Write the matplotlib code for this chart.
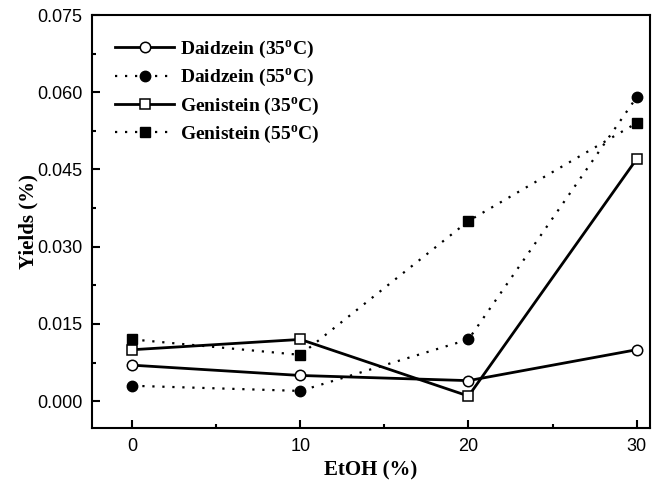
import numpy as np
import matplotlib.pyplot as plt
from matplotlib.ticker import MultipleLocator

etoh = [0, 10, 20, 30]
daid_35 = [0.007, 0.005, 0.004, 0.010]
daid_55 = [0.003, 0.002, 0.012, 0.059]
gen_35 = [0.010, 0.012, 0.001, 0.047]
gen_55 = [0.012, 0.009, 0.035, 0.054]

fig = plt.figure(figsize=(6.58, 4.88), dpi=100)
ax = fig.add_axes([92/658, 60/488, 558/658, 413/488])

dots = (0, (1, 3.5))
ax.plot(etoh, daid_35, '-', color='black', lw=2, marker='o', ms=7.5, mfc='white', mec='black', mew=1.1,
        label='Daidzein (35$^\\mathregular{o}$C)')
ax.plot(etoh, daid_55, linestyle=dots, color='black', lw=1.6, marker='o', ms=7.5, mfc='black', mec='black',
        label='Daidzein (55$^\\mathregular{o}$C)')
ax.plot(etoh, gen_35, '-', color='black', lw=2, marker='s', ms=7, mfc='white', mec='black', mew=1.1,
        label='Genistein (35$^\\mathregular{o}$C)')
ax.plot(etoh, gen_55, linestyle=dots, color='black', lw=1.6, marker='s', ms=7, mfc='black', mec='black',
        label='Genistein (55$^\\mathregular{o}$C)')

ax.set_xlim(-2.4, 30.8)
ax.set_ylim(-0.0052, 0.075)
ax.set_xticks(etoh)
ax.xaxis.set_minor_locator(MultipleLocator(5))
ax.set_yticks(np.arange(0, 0.0751, 0.015))
ax.yaxis.set_minor_locator(MultipleLocator(0.0075))
ax.set_yticklabels(['0.000', '0.015', '0.030', '0.045', '0.060', '0.075'])
ax.tick_params(which='both', direction='in', width=1.5)
ax.tick_params(which='major', length=6, labelsize=13, pad=7)
ax.tick_params(which='minor', length=3)
for lab in ax.get_xticklabels() + ax.get_yticklabels():
    lab.set_family('Liberation Sans')
for s in ax.spines.values():
    s.set_linewidth(1.5)

ax.set_xlabel('EtOH (%)', family='Liberation Serif', fontweight='bold', fontsize=15)
ax.set_ylabel('Yields (%)', family='Liberation Serif', fontweight='bold', fontsize=15)
ax.yaxis.set_label_coords(-54/558, 0.5)

leg = ax.legend(loc='upper left', frameon=False, handlelength=3,
                prop={'family': 'Liberation Serif', 'weight': 'bold', 'size': 14},
                borderaxespad=0.8, labelspacing=0.3, handletextpad=0.3)

fig.savefig('out.png', dpi=100)
